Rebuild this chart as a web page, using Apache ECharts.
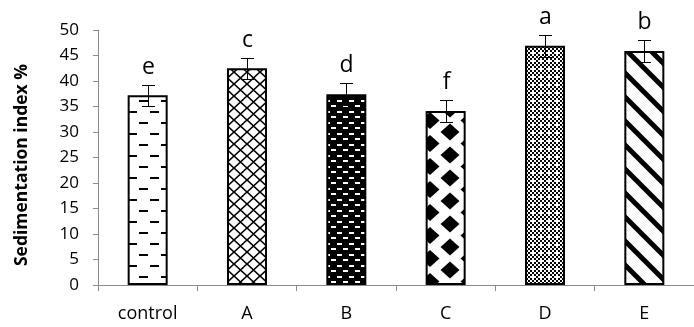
<!DOCTYPE html>
<html>
<head>
<meta charset="utf-8">
<script src="https://cdn.jsdelivr.net/npm/echarts@6/dist/echarts.min.js"></script>
<style>
html,body{margin:0;padding:0;background:#fff;}
#chart{width:694px;height:327px;}
</style>
</head>
<body>
<div id="chart"></div>
<script>
var categories = ['control', 'A', 'B', 'C', 'D', 'E'];
var values = [37.2, 42.5, 37.4, 34.1, 46.9, 45.9];
var errors = [2.1, 2.1, 2.2, 2.1, 2.2, 2.2];
var letters = ['e', 'c', 'd', 'f', 'a', 'b'];
var yTicks = [0, 5, 10, 15, 20, 25, 30, 35, 40, 45, 50];

function mk(w, h, draw) {
  var c = document.createElement('canvas');
  c.width = w; c.height = h;
  var g = c.getContext('2d');
  draw(g, w, h);
  return c;
}
function pat(c) { return { image: c, repeat: 'repeat' }; }

var patterns = [
  // control: staggered dashes
  mk(22, 22, function (g, w, h) {
    g.fillStyle = '#fff'; g.fillRect(0, 0, w, h);
    g.fillStyle = '#000';
    g.fillRect(18, 1, 9, 2); g.fillRect(-4, 1, 9, 2);
    g.fillRect(7, 12, 9, 2);
  }),
  // A: lattice
  mk(13, 12, function (g, w, h) {
    g.fillStyle = '#fff'; g.fillRect(0, 0, w, h);
    g.strokeStyle = '#000'; g.lineWidth = 1.6;
    g.beginPath();
    g.moveTo(0, 0); g.lineTo(w, h);
    g.moveTo(w, 0); g.lineTo(0, h);
    g.stroke();
  }),
  // B: black with white bricks
  mk(12, 11, function (g, w, h) {
    g.fillStyle = '#000'; g.fillRect(0, 0, w, h);
    g.fillStyle = '#fff';
    g.fillRect(1, 1, 5, 2);
    g.fillRect(7, 6, 5, 2);
  }),
  // C: diamonds
  mk(40, 23, function (g, w, h) {
    g.fillStyle = '#fff'; g.fillRect(0, 0, w, h);
    g.fillStyle = '#000';
    var pts = [[10, 17], [30, 5.5]];
    pts.forEach(function (p) {
      for (var dx = -1; dx <= 1; dx++) for (var dy = -1; dy <= 1; dy++) {
        var cx = p[0] + dx * w, cy = p[1] + dy * h;
        g.beginPath();
        g.moveTo(cx, cy - 8.5); g.lineTo(cx + 9.5, cy); g.lineTo(cx, cy + 8.5); g.lineTo(cx - 9.5, cy);
        g.closePath(); g.fill();
      }
    });
  }),
  // D: fine checker with white pluses
  mk(8, 8, function (g, w, h) {
    g.fillStyle = '#fff'; g.fillRect(0, 0, w, h);
    g.fillStyle = '#000';
    for (var i = 0; i < 4; i++) for (var j = 0; j < 4; j++) {
      if ((i + j) % 2 === 0 && !(i === 2 && j === 2)) g.fillRect(i * 2, j * 2, 2, 2);
    }
  }),
  // E: diagonal stripes
  mk(24, 24, function (g, w, h) {
    g.fillStyle = '#fff'; g.fillRect(0, 0, w, h);
    g.strokeStyle = '#000'; g.lineWidth = 5;
    g.beginPath();
    for (var k = -1; k <= 1; k++) {
      g.moveTo(-4, -4 + k * h); g.lineTo(w + 4, h + 4 + k * h);
    }
    g.stroke();
  })
];

var chart = echarts.init(document.getElementById('chart'), null, { renderer: 'canvas' });

var barData = values.map(function (v, i) {
  return {
    value: v,
    itemStyle: { color: pat(patterns[i]), borderColor: '#000', borderWidth: 2 }
  };
});
var errData = values.map(function (v, i) { return [i, v, errors[i]]; });

var axisGray = '#8a8a8a';

chart.setOption({
  animation: false,
  backgroundColor: '#fff',
  grid: { left: 98, top: 30, width: 603, bottom: 42, containLabel: false },
  xAxis: {
    type: 'category',
    data: categories,
    axisLine: { lineStyle: { color: axisGray, width: 1 } },
    axisTick: { show: true, length: 6, lineStyle: { color: axisGray } },
    axisLabel: { color: '#000', fontFamily: 'Open Sans', fontSize: 18, margin: 20 }
  },
  yAxis: {
    type: 'value',
    min: 0, max: 50, interval: 5,
    name: 'Sedimentation index %',
    nameLocation: 'middle',
    nameGap: 67,
    nameTextStyle: { color: '#000', fontFamily: 'Open Sans', fontWeight: 'bold', fontSize: 17.5, padding: [0, 15, 0, 0] },
    axisLine: { show: true, lineStyle: { color: axisGray, width: 1 } },
    axisTick: { show: true, length: 5, lineStyle: { color: axisGray } },
    splitLine: { show: false },
    axisLabel: {
      color: '#000', fontFamily: 'Open Sans', fontSize: 17, margin: 19,
      formatter: function (v) { return yTicks.indexOf(v) >= 0 ? String(v) : ''; }
    }
  },
  series: [
    {
      type: 'bar',
      data: barData,
      barWidth: 40,
      z: 2
    },
    {
      type: 'custom',
      data: errData,
      z: 3,
      renderItem: function (params, api) {
        var x = api.value(0), v = api.value(1), e = api.value(2);
        var top = api.coord([x, v + e]);
        var bot = api.coord([x, v - e]);
        var cx = Math.round(top[0]) + 0.5;
        var ty = Math.round(top[1]) + 0.5;
        var by = Math.round(bot[1]) + 0.5;
        var hw = 6.5;
        var st = { stroke: '#000', lineWidth: 1 };
        return {
          type: 'group',
          children: [
            { type: 'line', shape: { x1: cx, y1: ty, x2: cx, y2: by }, style: st },
            { type: 'line', shape: { x1: cx - hw, y1: ty, x2: cx + hw, y2: ty }, style: st },
            { type: 'line', shape: { x1: cx - hw, y1: by, x2: cx + hw, y2: by }, style: st },
            {
              type: 'text', x: cx, y: ty - 7,
              style: {
                text: letters[params.dataIndex], align: 'center', verticalAlign: 'bottom',
                font: '23px "Open Sans"', fill: '#000'
              }
            }
          ]
        };
      }
    }
  ]
});
</script>
</body>
</html>
